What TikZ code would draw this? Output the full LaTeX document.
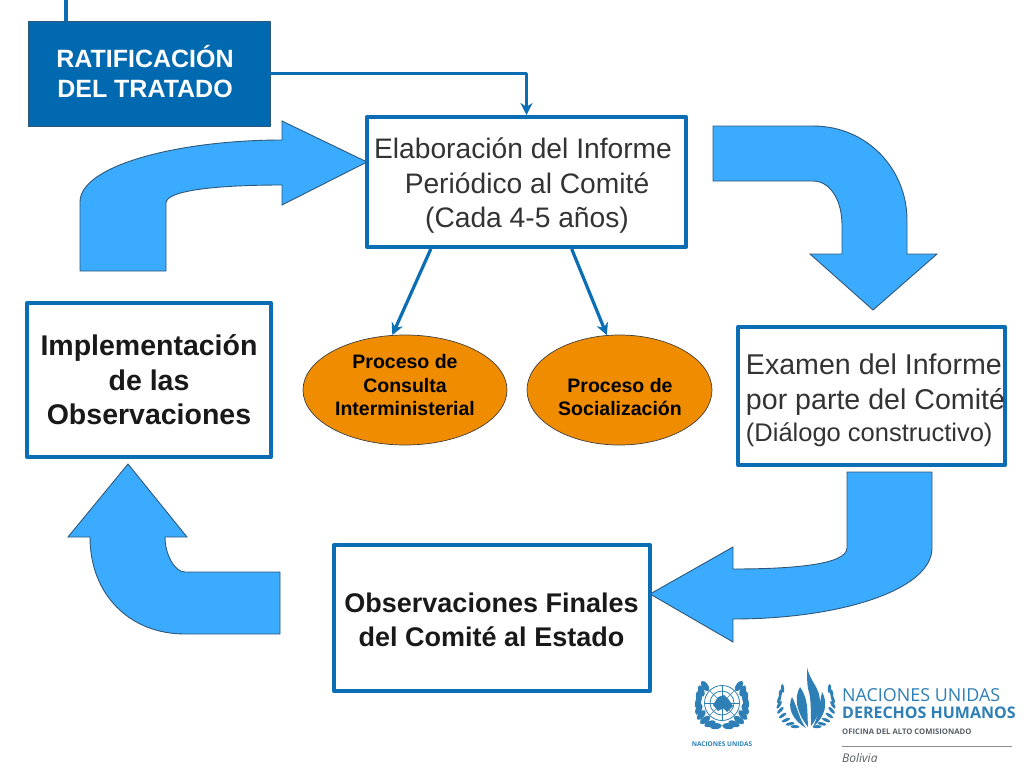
\documentclass[tikz,border=0pt]{standalone}
\usepackage{fontspec}
\setmainfont{Liberation Sans}
\newfontfamily\logofont{Open Sans}
\usepackage{tikz}
\usetikzlibrary{arrows.meta,shapes.geometric}

\definecolor{boxblue}{HTML}{0B6EB5}
\definecolor{ratblue}{HTML}{0069B0}
\definecolor{arrowblue}{HTML}{3BABFF}
\definecolor{arrowedge}{HTML}{2F5878}
\definecolor{ovalfill}{HTML}{F08C00}
\definecolor{unblue}{HTML}{2E7FB5}
\definecolor{greytext}{HTML}{555F66}

\tikzset{
  framebox/.style={draw=boxblue,line width=4pt,fill=white,inner sep=0pt},
  bigarrow/.style={draw=arrowedge,line width=0.9pt,fill=arrowblue,line join=miter},
  link/.style={draw=boxblue,line width=3.2pt},
  oval/.style={ellipse,draw=black!75,line width=0.7pt,fill=ovalfill,inner sep=0pt},
  leaf/.style={fill=unblue,draw=none},
  boxtext/.style={inner sep=0pt,align=center},
}

\newcommand{\plaintext}{\fontsize{28.2}{34.5}\selectfont}
\newcommand{\boldtext}{\fontsize{28.5}{34.5}\selectfont\bfseries}
\newcommand{\finaltext}{\fontsize{27}{34.5}\selectfont\bfseries}
\newcommand{\ovaltext}{\fontsize{19.5}{23.5}\selectfont\bfseries}

\begin{document}
\begin{tikzpicture}[x=1pt,y=-1pt,>={Stealth[length=12pt,width=12pt]},line join=round]
\useasboundingbox (0,0) rectangle (1024,768);

%% ---------------- big curved arrows ----------------
\draw[bigarrow] (80,271) -- (80,202)
  .. controls (80,165) and (180,140) .. (282,140)
  -- (282,121) -- (367,162) -- (282,205) -- (282,185)
  .. controls (220,185) and (166,190) .. (166,203)
  -- (166,271) -- cycle;
\draw[bigarrow] (713,126) -- (813,126)
  .. controls (868,126) and (907,170) .. (907,220)
  -- (907,254) -- (937,254) -- (873,310) -- (810,254) -- (842,254) -- (842,225)
  .. controls (842,200) and (830,181) .. (813,181)
  -- (713,181) -- cycle;
\draw[bigarrow] (847,472) -- (932,472) -- (932,548)
  .. controls (932,590) and (840,619) .. (733,619)
  -- (733,642) -- (650,594) -- (733,547) -- (733,569)
  .. controls (790,569) and (847,565) .. (847,548)
  -- cycle;
\draw[bigarrow] (128,464) -- (187,537) -- (165,537)
  .. controls (165,555) and (175,572) .. (185,572)
  -- (280,572) -- (280,634) -- (185,634)
  .. controls (130,634) and (90,595) .. (90,537)
  -- (68,537) -- cycle;

%% ---------------- boxes ----------------
\node[draw=arrowedge,line width=0.8pt,fill=ratblue,minimum width=242pt,minimum height=105pt,inner sep=0pt]
      (ratif) at (149,73.5) {};
\node[boxtext,text=white,font=\fontsize{25}{30}\selectfont\bfseries]
      (ratiftxt) at (145,71.5) {RATIFICACIÓN\\DEL TRATADO};
\node[framebox,minimum width=319pt,minimum height=130pt] (elab) at (526.5,182) {};
\node[boxtext,text=black!80,font=\plaintext]
      (elabtxt) at (527,186) {Elaboración del Informe\hspace*{8pt}\\Periódico al Comité\\(Cada 4-5 años)};
\node[framebox,minimum width=244pt,minimum height=154pt,align=center,text=black!90,font=\boldtext]
      (impl) at (149,380) {Implementación\\de las\\Observaciones};
\node[framebox,minimum width=267pt,minimum height=138pt] (exam) at (871.5,396) {};
\node[align=left,inner sep=0pt,text=black!80,font=\fontsize{28.6}{33.5}\selectfont] (examtxt) at (875.5,400.5)
      {Examen del Informe\\[1.5pt]por parte del Comité\\[-1.5pt]{\fontsize{25.5}{33.5}\selectfont (Diálogo constructivo)}};
\node[framebox,minimum width=316pt,minimum height=146pt] (obsv) at (492,618) {};
\node[boxtext,text=black!90,font=\finaltext]
      (obsvtxt) at (491.5,620) {Observaciones Finales\\del Comité al Estado};

%% ---------------- the two processes ----------------
\node[oval,minimum width=204pt,minimum height=110pt] (cons) at (405,390) {};
\node[boxtext,font=\ovaltext] (constxt) at (405,385.5) {Proceso de\\Consulta\\Interministerial};
\node[oval,minimum width=185pt,minimum height=110pt] (soc) at (619.5,390) {};
\node[boxtext,font=\ovaltext] (soctxt) at (620,397) {Proceso de\\Socialización};

%% ---------------- connectors ----------------
\coordinate (topend) at (66,0);
\draw[link] (topend) -- (topend |- ratif.north);
\draw[link,->] (ratif.east) -| (elab.north);
\draw[link,->] (elab.215.5) -- (cons.103);
\draw[link,->] (elab.-56) -- (soc.103);

%% ---------------- UN emblem ----------------
\begin{scope}[shift={(722,703)}]
  \draw[unblue,line width=0.8pt] (0,0) circle (17.5) (0,0) circle (12) (0,0) circle (6);
  \foreach \ang in {0,45,...,315}
    \draw[unblue,line width=0.5pt] (0,0) -- (\ang:17.5);
  \fill[unblue] (-9,2) -- (-4,-6) -- (2,-8) -- (7,-3) -- (11,3) -- (5,9) -- (1,5) -- (-4,8) -- cycle;
  \foreach \ang in {-45,-30,...,75} {
    \fill[leaf] (\ang:24) ellipse [x radius=3, y radius=6, rotate=\ang+10];
    \fill[leaf] (180-\ang:24) ellipse [x radius=3, y radius=6, rotate=-\ang-10];
  }
\end{scope}
\node[inner sep=0pt,text=unblue,font=\logofont\fontsize{6.5}{7}\selectfont\bfseries] (unname) at (722,744) {NACIONES UNIDAS};

%% ---------------- human rights emblem ----------------
\begin{scope}[shift={(806,702)}]
  \foreach \ang in {-30,-18,...,75} {
    \fill[leaf] (\ang:27) ellipse [x radius=1.6, y radius=4.5, rotate=\ang+25];
    \fill[leaf] (180-\ang:27) ellipse [x radius=1.6, y radius=4.5, rotate=-\ang-25];
  }
  %% flame, one tongue at a time
  \fill[unblue] (1,-35) .. controls (4,-20) and (14,-15) .. (14,0)
     .. controls (14,10) and (10,18) .. (5,24)
     .. controls (5,10) and (5,-2) .. (3,-10)
     .. controls (1,-15) and (1,-25) .. (1,-35) -- cycle;
  \fill[unblue] (16,-10) .. controls (22,0) and (20,14) .. (7,25)
     .. controls (12,15) and (13,5) .. (16,-10) -- cycle;
  \fill[unblue] (-6,-15) .. controls (-12,-5) and (-10,10) .. (2,25)
     .. controls (1,10) and (3,-2) .. (-6,-15) -- cycle;
  \fill[unblue] (-14,-5) .. controls (-19,5) and (-14,18) .. (0,26)
     .. controls (-7,17) and (-8,7) .. (-14,-5) -- cycle;
\end{scope}
\node[anchor=west,inner sep=0pt,text=unblue,font=\logofont\fontsize{17.9}{20}\selectfont] (hrone) at (842,695) {NACIONES UNIDAS};
\node[anchor=west,inner sep=0pt,text=unblue,font=\logofont\fontsize{16}{20}\selectfont\bfseries] (hrtwo) at (842,713) {DERECHOS HUMANOS};
\node[anchor=west,inner sep=0pt,text=greytext,font=\logofont\fontsize{7.7}{9}\selectfont\bfseries] (hrthree) at (842,732) {OFICINA DEL ALTO COMISIONADO};
\coordinate (rulestart) at (842,746);
\coordinate (ruleend) at (1012,746);
\draw[greytext!70,line width=0.6pt] (rulestart) -- (ruleend);
\node[anchor=west,inner sep=0pt,text=greytext,font=\logofont\fontsize{12}{14}\selectfont\itshape] (hrfour) at (842,758) {Bolivia};

\end{tikzpicture}
\end{document}
